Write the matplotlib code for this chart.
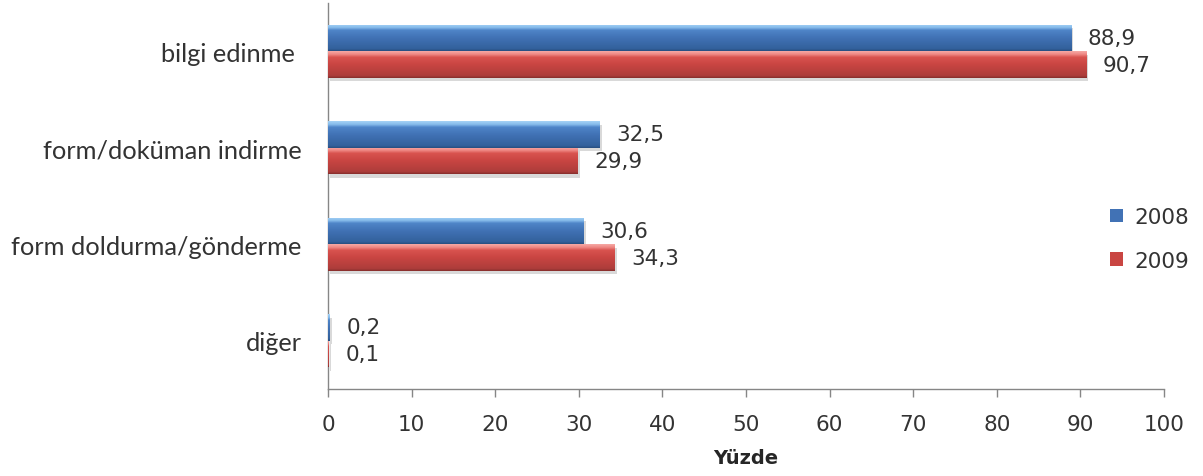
import numpy as np
import matplotlib
matplotlib.use("Agg")
import matplotlib.pyplot as plt
import matplotlib.patheffects as pe
from matplotlib.colors import LinearSegmentedColormap
from matplotlib.patches import Patch

# Internet usage purposes by year (percent)
categories = ["bilgi edinme ", "form/doküman indirme", "form doldurma/gönderme", "diğer"]
values_2008 = [88.9, 32.5, 30.6, 0.2]
values_2009 = [90.7, 29.9, 34.3, 0.1]
labels_2008 = ["88,9", "32,5", "30,6", "0,2"]
labels_2009 = ["90,7", "29,9", "34,3", "0,1"]
series_names = ["2008", "2009"]
x_ticks = list(range(0, 101, 10))

text_font = ["Lato", "DejaVu Sans"]
num_font = ["DejaVu Sans"]
text_color = "#333333"
num_size = 15.5

fig = plt.figure(figsize=(12.03, 4.77), dpi=100)
ax = fig.add_axes([328 / 1203, 1 - 390 / 477, (1164 - 328) / 1203, (390 - 4) / 477])

n = len(categories)
ypos = np.arange(n)[::-1].astype(float)
h = 0.275

blue_cmap = LinearSegmentedColormap.from_list(
    "blue_bevel", [(0.0, "#284f80"), (0.08, "#33619c"), (0.5, "#4172b5"),
                   (0.78, "#4f85c8"), (0.88, "#86bbeb"), (1.0, "#a5d2f5")])
red_cmap = LinearSegmentedColormap.from_list(
    "red_bevel", [(0.0, "#872e2c"), (0.08, "#ad3d3b"), (0.5, "#c94542"),
                  (0.78, "#d9534f"), (0.88, "#ee8682"), (1.0, "#f5a8a4")])
mid_colors = ["#4172b5", "#c94542"]

grad = np.linspace(0, 1, 64).reshape(-1, 1)
shadow = [pe.SimplePatchShadow(offset=(1.5, -2.5), shadow_rgbFace="#555555", alpha=0.22), pe.Normal()]


def gradient_bars(values, offset, cmap, color):
    bars = ax.barh(ypos + offset, values, height=h, color=color,
                   edgecolor="none", zorder=2, path_effects=shadow)
    for bar in bars:
        x0, y0 = bar.get_x(), bar.get_y()
        w, hh = bar.get_width(), bar.get_height()
        im = ax.imshow(grad, cmap=cmap, extent=[x0, x0 + w, y0, y0 + hh],
                       origin="lower", aspect="auto", zorder=3,
                       interpolation="bilinear")
        im.set_clip_path(bar)
    return bars


b08 = gradient_bars(values_2008, h / 2, blue_cmap, mid_colors[0])
b09 = gradient_bars(values_2009, -h / 2, red_cmap, mid_colors[1])

for bars, labels in ((b08, labels_2008), (b09, labels_2009)):
    for bar, lab in zip(bars, labels):
        ax.annotate(lab, (bar.get_width(), bar.get_y() + bar.get_height() / 2),
                    xytext=(12, 0), textcoords="offset points",
                    ha="left", va="center", fontsize=num_size,
                    family=num_font, color=text_color)

ax.set_xlim(0, 100)
ax.set_ylim(-0.5, n - 0.5)
ax.set_xticks(x_ticks)
ax.set_xticklabels([str(t) for t in x_ticks], fontsize=num_size,
                   family=num_font, color=text_color)
ax.set_yticks(ypos)
ax.set_yticklabels(categories, fontsize=18.3, family=text_font, color=text_color)
ax.tick_params(axis="y", length=0, pad=19)
ax.tick_params(axis="x", length=6, width=1, color="#868686", pad=12)

for s in ("top", "right"):
    ax.spines[s].set_visible(False)
for s in ("left", "bottom"):
    ax.spines[s].set_color("#868686")
    ax.spines[s].set_linewidth(1)

ax.set_xlabel("Yüzde", fontsize=14, fontweight="bold", family=num_font,
              color="#262626", labelpad=10)

handles = [Patch(facecolor=mid_colors[0], edgecolor="none"),
           Patch(facecolor=mid_colors[1], edgecolor="none")]
fig.legend(handles, series_names, loc="center left",
           bbox_to_anchor=(1091 / 1203, 1 - 240 / 477), frameon=False,
           prop={"family": num_font, "size": num_size},
           handlelength=0.6, handleheight=0.6,
           handletextpad=0.5, labelspacing=1.1, labelcolor=text_color)

fig.savefig("out.png", dpi=100)
